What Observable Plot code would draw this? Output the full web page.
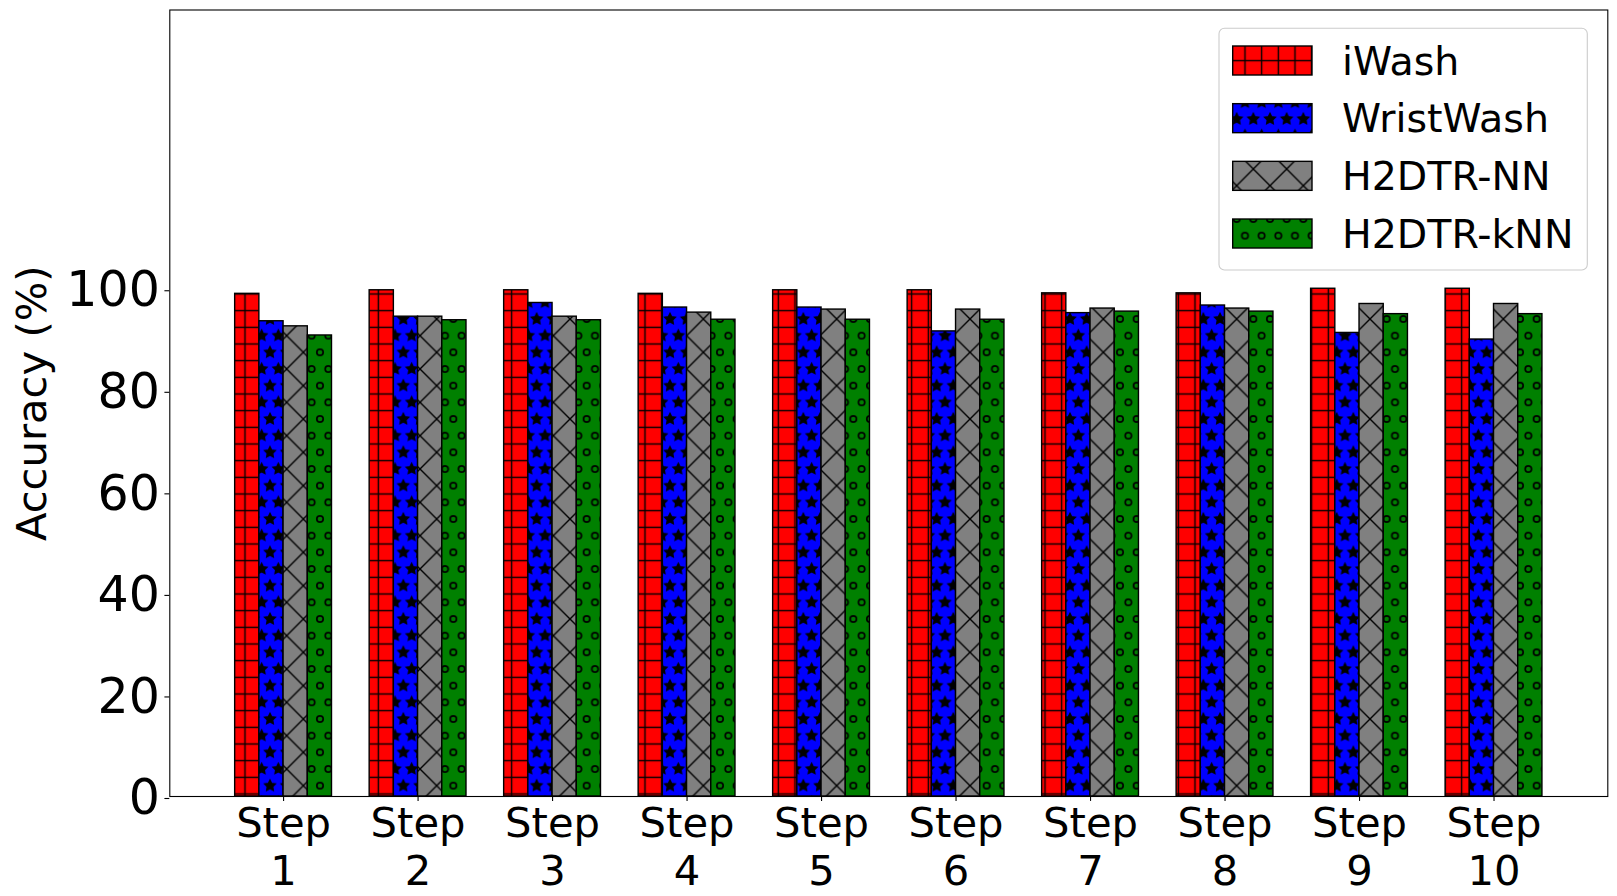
<!DOCTYPE html>
<html><head><meta charset="utf-8">
<script src="https://cdn.jsdelivr.net/npm/d3@7"></script>
<script src="https://cdn.jsdelivr.net/npm/@observablehq/plot@0.6"></script>
<style>html,body{margin:0;padding:0;background:#fff} svg{display:block}</style>
</head><body><div id="chart"></div><script>
// ---- data ----
const steps = ["Step 1","Step 2","Step 3","Step 4","Step 5","Step 6","Step 7","Step 8","Step 9","Step 10"];
const series = ["iWash","WristWash","H2DTR-NN","H2DTR-kNN"];
const iWash     = [99.0, 99.7, 99.7, 99.0, 99.7, 99.7, 99.1, 99.1, 100.0, 100.0];
const wristWash = [93.6, 94.5, 97.2, 96.3, 96.3, 91.6, 95.2, 96.7, 91.3, 90.0];
const h2dtrNN   = [92.6, 94.5, 94.5, 95.3, 95.9, 95.9, 96.1, 96.1, 97.0, 97.0];
const h2dtrKNN  = [90.8, 93.8, 93.8, 93.9, 93.9, 93.9, 95.5, 95.5, 95.0, 95.0];
const yTicks = [0, 20, 40, 60, 80, 100];
const yLabel = "Accuracy (%)";

const seriesValues = [iWash, wristWash, h2dtrNN, h2dtrKNN];
const colors = ["#ff0000", "#0000ff", "#808080", "#008000"];
const barW = 0.18;

const bars = seriesValues.map((vals, j) =>
  Plot.rectY(vals, {
    x1: (d, i) => i + (j - 2) * barW,
    x2: (d, i) => i + (j - 1) * barW,
    y: d => d,
    fill: `url(#pat${j})`,
    stroke: "black",
    strokeWidth: 1.4
  })
);

const plot = Plot.plot({
  width: 1617, height: 896,
  marginLeft: 169.3, marginRight: 9.7, marginTop: 9.5, marginBottom: 100,
  x: {type: "linear", domain: [-0.846, 9.846]},
  y: {domain: [0, 154.9]},
  style: {fontFamily: "DejaVu Sans", color: "black", background: "white"},
  marks: [
    ...bars,
    Plot.frame({stroke: "black", strokeWidth: 1.1}),
    Plot.axisY(yTicks, {tickSize: 4.9, tickPadding: 5, fontSize: 49, dy: 2, label: null, strokeWidth: 1.1}),
    Plot.axisX(d3.range(steps.length), {
      tickFormat: i => steps[i].replace(" ", "\n"),
      tickSize: 4.9, tickPadding: 2, fontSize: 41.7, lineHeight: 1.15, label: null, strokeWidth: 1.1
    }),
    Plot.text([yLabel], {text: d => d, frameAnchor: "left", textAnchor: "middle", dx: -137.6, rotate: -90, fontSize: 41.7, fill: "black"})
  ]
});

// ---- hatch patterns (matplotlib-like, anchored to the canvas) ----
const svg = d3.select(plot);
const defs = svg.insert("defs", ":first-child");
const S = 100 / 6;          // hatch row spacing
const ox = 3.33, oy = 2.33; // lattice phase
const lw = 1.39;

function starPath(cx, cy, R) {
  const r = R * 0.5; let p = "";
  for (let k = 0; k < 10; k++) {
    const a = -Math.PI / 2 + k * Math.PI / 5;
    const rr = k % 2 === 0 ? R : r;
    p += (k ? "L" : "M") + (cx + rr * Math.cos(a)).toFixed(2) + "," + (cy + rr * Math.sin(a)).toFixed(2);
  }
  return p + "Z";
}
const shapePos = [[S / 2, 0], [S / 2, 2 * S], [0, S], [S, S]];

// 0: '+' grid on red
{
  const p = defs.append("pattern").attr("id", "pat0").attr("patternUnits", "userSpaceOnUse")
    .attr("x", ox).attr("y", oy).attr("width", S).attr("height", 2 * S);
  p.append("rect").attr("width", S).attr("height", 2 * S).attr("fill", colors[0]);
  [S / 2, S * 1.5].forEach(y => p.append("line").attr("x1", -1).attr("x2", S + 1).attr("y1", y).attr("y2", y).attr("stroke", "black").attr("stroke-width", lw));
  p.append("line").attr("x1", S / 2).attr("x2", S / 2).attr("y1", -1).attr("y2", 2 * S + 1).attr("stroke", "black").attr("stroke-width", lw);
}
// 1: '*' stars on blue
{
  const p = defs.append("pattern").attr("id", "pat1").attr("patternUnits", "userSpaceOnUse")
    .attr("x", ox).attr("y", oy).attr("width", S).attr("height", 2 * S);
  p.append("rect").attr("width", S).attr("height", 2 * S).attr("fill", colors[1]);
  shapePos.forEach(([x, y]) => p.append("path").attr("d", starPath(x, y, S / 3)).attr("fill", "black").attr("stroke", "black").attr("stroke-width", lw).attr("stroke-linejoin", "miter"));
}
// 2: 'x' diagonal cross on gray
{
  const T = 2 * S;
  const p = defs.append("pattern").attr("id", "pat2").attr("patternUnits", "userSpaceOnUse")
    .attr("x", ox).attr("y", oy + S).attr("width", T).attr("height", T);
  p.append("rect").attr("width", T).attr("height", T).attr("fill", colors[2]);
  [-T, 0, T].forEach(k => {
    p.append("line").attr("x1", -2).attr("y1", -2 + k).attr("x2", T + 2).attr("y2", T + 2 + k).attr("stroke", "black").attr("stroke-width", lw);
    p.append("line").attr("x1", -2).attr("y1", T + 2 + k).attr("x2", T + 2).attr("y2", -2 + k).attr("stroke", "black").attr("stroke-width", lw);
  });
}
// 3: 'o' small circles on green
{
  const p = defs.append("pattern").attr("id", "pat3").attr("patternUnits", "userSpaceOnUse")
    .attr("x", ox).attr("y", oy).attr("width", S).attr("height", 2 * S);
  p.append("rect").attr("width", S).attr("height", 2 * S).attr("fill", colors[3]);
  shapePos.forEach(([x, y]) => p.append("circle").attr("cx", x).attr("cy", y).attr("r", 3.17).attr("fill", "none").attr("stroke", "black").attr("stroke-width", 1.7));
}

// ---- legend ----
const lg = svg.append("g").attr("font-family", "DejaVu Sans").attr("text-anchor", "start");
lg.append("rect").attr("x", 1219).attr("y", 28.3).attr("width", 368.3).attr("height", 241.7).attr("rx", 5.5)
  .attr("fill", "white").attr("fill-opacity", 0.8).attr("stroke", "#cccccc").attr("stroke-width", 1.1);
series.forEach((s, j) => {
  const y = 46 + j * 57.67;
  lg.append("rect").attr("x", 1232.7).attr("y", y).attr("width", 79.3).attr("height", 29)
    .attr("fill", `url(#pat${j})`).attr("stroke", "black").attr("stroke-width", 1.4);
  lg.append("text").attr("x", 1342).attr("y", y + 28.5).attr("font-size", 39.5).attr("fill", "black")
    .attr("text-anchor", "start").text(s);
});

document.getElementById("chart").appendChild(plot);
</script></body></html>
